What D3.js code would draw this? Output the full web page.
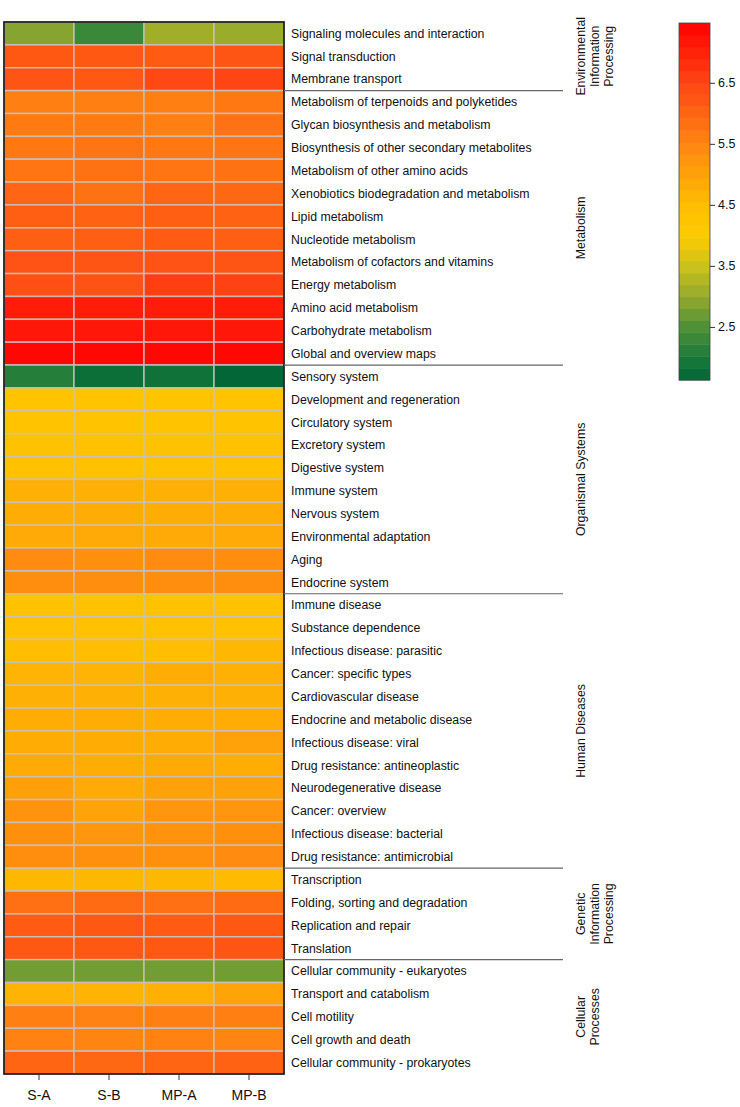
<!DOCTYPE html>
<html><head><meta charset="utf-8">
<script src="https://cdn.jsdelivr.net/npm/d3@7"></script>
<style>body{margin:0;background:#fff;font-family:"Liberation Sans",Arial,sans-serif;}</style>
</head><body><svg id="chart" width="740" height="1107"></svg>
<script>
const samples = ["S-A","S-B","MP-A","MP-B"];
const pathways = [
"Signaling molecules and interaction","Signal transduction","Membrane transport",
"Metabolism of terpenoids and polyketides","Glycan biosynthesis and metabolism","Biosynthesis of other secondary metabolites","Metabolism of other amino acids","Xenobiotics biodegradation and metabolism","Lipid metabolism","Nucleotide metabolism","Metabolism of cofactors and vitamins","Energy metabolism","Amino acid metabolism","Carbohydrate metabolism","Global and overview maps",
"Sensory system","Development and regeneration","Circulatory system","Excretory system","Digestive system","Immune system","Nervous system","Environmental adaptation","Aging","Endocrine system",
"Immune disease","Substance dependence","Infectious disease: parasitic","Cancer: specific types","Cardiovascular disease","Endocrine and metabolic disease","Infectious disease: viral","Drug resistance: antineoplastic","Neurodegenerative disease","Cancer: overview","Infectious disease: bacterial","Drug resistance: antimicrobial",
"Transcription","Folding, sorting and degradation","Replication and repair","Translation",
"Cellular community - eukaryotes","Transport and catabolism","Cell motility","Cell growth and death","Cellular community - prokaryotes"];
const valuesSA = [2.9,6.2,6.25, 5.6,5.65,5.7,5.75,6.0,6.1,6.1,6.3,6.35,7.1,7.15,7.4, 2.1,4.3,4.3,4.35,4.4,4.75,4.8,4.85,5.4,5.35, 4.35,4.4,4.45,4.7,4.75,4.8,4.8,4.85,5.05,5.25,5.3,5.35, 4.6,5.85,6.15,6.2, 2.75,4.7,5.6,5.55,6.0];
const valuesSB = [2.3,6.2,6.2, 5.6,5.65,5.75,5.8,5.8,6.05,6.1,6.25,6.3,7.1,7.15,7.4, 1.8,4.3,4.3,4.4,4.4,4.75,4.8,4.85,5.3,5.35, 4.35,4.4,4.45,4.7,4.75,4.8,4.8,4.8,4.85,4.95,5.2,5.3, 4.6,5.9,6.2,6.2, 2.75,4.7,5.55,5.5,5.95];
const valuesMPA = [3.1,6.15,6.45, 5.6,5.6,5.7,5.75,6.0,6.1,6.15,6.3,6.6,7.1,7.15,7.4, 1.85,4.3,4.3,4.35,4.4,4.75,4.8,4.85,5.4,5.35, 4.35,4.4,4.45,4.8,4.75,4.8,4.8,4.85,5.0,5.2,5.25,5.3, 4.6,5.85,6.15,6.2, 2.75,4.75,5.6,5.55,6.0];
const valuesMPB = [3.05,6.25,6.5, 5.7,5.8,5.75,5.8,5.95,6.05,6.1,6.25,6.55,7.1,7.15,7.4, 1.65,4.3,4.3,4.4,4.4,4.75,4.8,4.85,5.35,5.35, 4.35,4.4,4.6,4.75,4.75,4.8,5.0,4.8,5.0,5.2,5.3,5.4, 4.55,5.9,6.2,6.25, 2.75,4.95,5.6,5.5,6.05];
const groups = [
 {lines:["Environmental","Information","Processing"], start:0, end:2},
 {lines:["Metabolism"], start:3, end:14},
 {lines:["Organismal Systems"], start:15, end:24},
 {lines:["Human Diseases"], start:25, end:36},
 {lines:["Genetic","Information","Processing"], start:37, end:40},
 {lines:["Cellular","Processes"], start:41, end:45}
];
const legendTicks = [2.5,3.5,4.5,5.5,6.5];
const colorStops = [1.6,2.0,2.5,3.0,3.5,4.0,4.5,5.5,6.5,7.5];
const colorRange = ["#006336","#1a7a3a","#4f9138","#95a92e","#cbc21c","#ffcb00","#ffbe00","#ff8512","#ff4514","#ff0000"];

const svg = d3.select("#chart");
const color = d3.scaleLinear().domain(colorStops).range(colorRange).clamp(true);
const x = d3.scaleBand().domain(samples).range([4,284]);
const y = d3.scaleBand().domain(pathways).range([22,1074]);
const cols = [valuesSA,valuesSB,valuesMPA,valuesMPB];
const cells = [];
pathways.forEach((p,i)=>samples.forEach((s,j)=>cells.push({p,s,v:cols[j][i]})));

svg.append("g").selectAll("rect").data(cells).join("rect")
 .attr("x",d=>x(d.s)).attr("y",d=>y(d.p))
 .attr("width",x.bandwidth()).attr("height",y.bandwidth())
 .attr("fill",d=>color(d.v))
 .attr("stroke","#c9c0bb").attr("stroke-width",1.5).attr("stroke-opacity",0.9);

svg.append("rect").attr("x",4).attr("y",22).attr("width",280).attr("height",1052)
 .attr("fill","none").attr("stroke","#111").attr("stroke-width",1.6);

// bottom axis
const ax = svg.append("g").attr("transform","translate(0,1074)")
 .call(d3.axisBottom(x).tickSize(6).tickPadding(10));
ax.select(".domain").remove();
ax.selectAll("line").attr("stroke","#333");
ax.selectAll("text").attr("font-size",14).attr("fill","#111").attr("font-family","Liberation Sans, Arial, sans-serif");

// row labels
svg.append("g").selectAll("text").data(pathways).join("text")
 .attr("x",291).attr("y",d=>y(d)+y.bandwidth()/2)
 .attr("dy","0.35em").attr("font-size",12.3).attr("fill","#111")
 .text(d=>d);

// group separators
groups.slice(0,-1).forEach(g=>{
  const yy = y(pathways[g.end])+y.bandwidth();
  svg.append("line").attr("x1",284).attr("x2",563).attr("y1",yy).attr("y2",yy)
   .attr("stroke","#666").attr("stroke-width",1.2);
});
// group labels
groups.forEach(g=>{
  const cy = (y(pathways[g.start]) + y(pathways[g.end])+y.bandwidth())/2;
  g.lines.forEach((t,k)=>{
    const xx = 585 + k*14;
    svg.append("text").attr("transform",`translate(${xx},${cy}) rotate(-90)`)
     .attr("text-anchor","middle").attr("font-size",12.3).attr("fill","#111")
     .text(t);
  });
});

// colour legend
const ly = d3.scaleLinear().domain([1.63,7.48]).range([380,23]);
const nb = 30;
const step = (7.48-1.63)/nb;
const bands = d3.range(nb).map(i=>1.63+i*step);
svg.append("g").selectAll("rect").data(bands).join("rect")
 .attr("x",679).attr("width",31)
 .attr("y",d=>ly(d+step)).attr("height",d=>ly(d)-ly(d+step)+0.5)
 .attr("fill",d=>color(d+step/2));
svg.append("rect").attr("x",679).attr("y",23).attr("width",31).attr("height",357)
 .attr("fill","none").attr("stroke","#444").attr("stroke-width",0.8);
const lax = svg.append("g").attr("transform","translate(710,0)")
 .call(d3.axisRight(ly).tickValues(legendTicks).tickFormat(d3.format(".1f")).tickSize(5).tickPadding(3));
lax.select(".domain").remove();
lax.selectAll("line").attr("stroke","#333");
lax.selectAll("text").attr("font-size",12.5).attr("fill","#111").attr("font-family","Liberation Sans, Arial, sans-serif");
</script></body></html>
